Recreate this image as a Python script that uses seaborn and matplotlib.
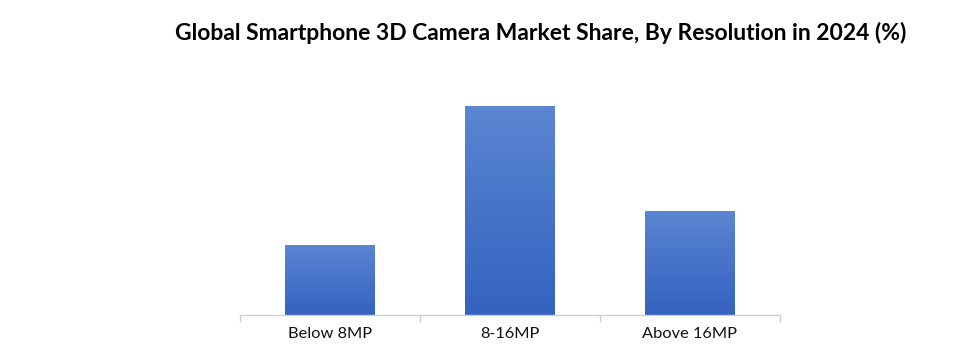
import numpy as np
import pandas as pd
import matplotlib
matplotlib.use("Agg")
import matplotlib.pyplot as plt
import seaborn as sns
from matplotlib.colors import LinearSegmentedColormap

# Data
categories = ["Below 8MP", "8-16MP", "Above 16MP"]
shares = [18.3, 54.6, 27.2]

df = pd.DataFrame({"resolution": categories, "share": shares})

sns.set_style("white")
plt.rcParams['font.family'] = ['Lato', 'DejaVu Sans']

fig = plt.figure(figsize=(9.54, 3.54), dpi=100)
ax = fig.add_axes([240 / 954, 39 / 354, 540 / 954, 230 / 354])

sns.barplot(data=df, x="resolution", y="share", color="#4472C4",
            width=0.5, ax=ax, saturation=1)

# vertical gradient on each bar
cmap = LinearSegmentedColormap.from_list("bar", ["#3462BF", "#5B86D2"])
grad = np.linspace(0, 1, 256).reshape(-1, 1)
for patch in ax.patches:
    x0, y0 = patch.get_x(), patch.get_y()
    w, h = patch.get_width(), patch.get_height()
    im = ax.imshow(grad, cmap=cmap, origin="lower", aspect="auto",
                   extent=[x0, x0 + w, y0, y0 + h], zorder=patch.get_zorder() + 0.1)
    im.set_clip_path(patch)

ax.set_xlim(-0.5, 2.5)
ax.set_ylim(0, 60)
ax.set_xlabel("")
ax.set_ylabel("")
ax.set_yticks([])

for side in ["top", "right", "left"]:
    ax.spines[side].set_visible(False)
ax.spines["bottom"].set_color("#D0D0D0")
ax.spines["bottom"].set_linewidth(1.0)

ax.set_xticks([0, 1, 2])
ax.set_xticklabels(categories, fontsize=11.8, color="#111111")
ax.set_xticks([-0.5, 0.5, 1.5, 2.5], minor=True)
ax.tick_params(axis="x", which="major", length=0, pad=9)
ax.tick_params(axis="x", which="minor", bottom=True, length=5,
               color="#D0D0D0", width=1.0)

fig.text(541 / 954, 1 - 33 / 354,
         "Global Smartphone 3D Camera Market Share, By Resolution in 2024 (%)",
         ha="center", va="center", fontsize=16.5, fontweight="bold", color="black")

fig.savefig("out.png", dpi=100)
